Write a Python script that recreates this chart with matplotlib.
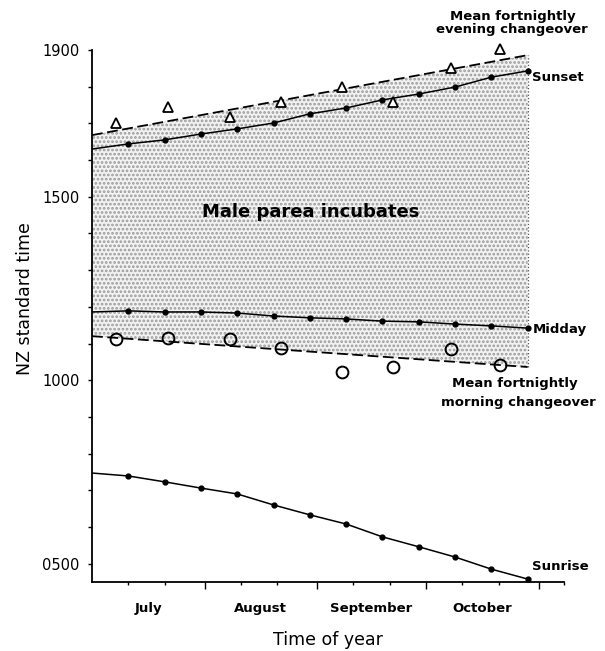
import matplotlib
matplotlib.use("Agg")
import matplotlib.pyplot as plt

plt.rcParams['font.family'] = ['DejaVu Sans']
plt.rcParams['hatch.linewidth'] = 1.3

# dias desde 1 de julho
dias = [0, 10, 20, 30, 40, 50, 60, 70, 80, 90, 100, 110, 120]
por_do_sol = [16.30, 16.44, 16.55, 16.71, 16.85, 17.01, 17.26, 17.42, 17.64, 17.80, 17.99, 18.26, 18.43]
meio_dia = [11.86, 11.89, 11.86, 11.86, 11.83, 11.75, 11.70, 11.67, 11.61, 11.59, 11.53, 11.48, 11.42]
nascer_do_sol = [7.47, 7.39, 7.23, 7.06, 6.90, 6.60, 6.33, 6.08, 5.73, 5.46, 5.18, 4.85, 4.58]

# trocas quinzenais (media)
dias_troca = [6.5, 21.0, 38.0, 52.0, 68.8, 82.8, 98.9, 112.5]
troca_noite = [17.01, 17.45, 17.17, 17.58, 17.99, 17.58, 18.51, 19.03]
troca_manha = [11.12, 11.15, 11.12, 10.88, 10.22, 10.36, 10.85, 10.41]

# retas ajustadas (inicio e fim)
dias_reta = [0, 120]
reta_noite = [16.68, 18.86]
reta_manha = [11.20, 10.36]

meses = ['July', 'August', 'September', 'October']
centro_meses = [15.5, 46.5, 77.0, 107.5]
inicio_meses = [31, 62, 92, 123]
ticks_menores = [10, 20, 41, 51, 72, 82, 102, 112, 130]
horas = [5, 10, 15, 19]
horas_labels = ['0500', '1000', '1500', '1900']

fig = plt.figure(figsize=(6.05, 6.51), dpi=100)
ax = fig.add_axes([92 / 605, 69 / 651, 472 / 605, 532 / 651])

# area sombreada (macho incuba)
ax.fill_between(dias_reta, reta_manha, reta_noite, facecolor='#f2f2f2',
                edgecolor='#9a9a9a', hatch='....', linewidth=0, zorder=1)
ax.plot([dias_reta[1], dias_reta[1]], [reta_manha[1], reta_noite[1]],
        color='#555555', lw=0.9, ls=':', zorder=2)

ax.plot(dias_reta, reta_noite, color='black', lw=1.3, ls=(0, (6, 2.5)), zorder=3, clip_on=False)
ax.plot(dias_reta, reta_manha, color='black', lw=1.3, ls=(0, (6, 2.5)), zorder=3)

for serie in [por_do_sol, meio_dia, nascer_do_sol]:
    ax.plot(dias, serie, color='black', lw=1.1, zorder=4)
    ax.plot(dias[1:], serie[1:], 'o', color='black', ms=3.5, zorder=5)

ax.plot(dias_troca, troca_noite, '^', mfc='white', mec='black', mew=1.3, ms=7,
        zorder=6, clip_on=False)
ax.plot(dias_troca, troca_manha, 'o', mfc='none', mec='black', mew=1.4, ms=8.5, zorder=6)

ax.set_xlim(0, 130)
ax.set_ylim(4.5, 19)

ax.spines['top'].set_visible(False)
ax.spines['right'].set_visible(False)
ax.spines['left'].set_linewidth(1.3)
ax.spines['bottom'].set_linewidth(1.3)

ax.set_xticks(inicio_meses)
ax.set_xticks(ticks_menores, minor=True)
ax.set_xticklabels([])
ax.tick_params(axis='x', which='major', length=5, width=1)
ax.tick_params(axis='x', which='minor', length=2.5, width=1)

ax.set_yticks(horas, horas_labels)
ax.set_yticks(range(5, 19), minor=True)
ax.tick_params(axis='y', which='both', length=3, width=1, labelsize=10.5, pad=6)

for mes, c in zip(meses, centro_meses):
    ax.text(c, -0.049, mes, transform=ax.get_xaxis_transform(), ha='center',
            va='center', fontsize=9.5, fontweight='bold')

ax.set_xlabel('Time of year', fontsize=12.5)
ax.xaxis.set_label_coords(0.5, -0.093)
ax.set_ylabel('NZ standard time', fontsize=12.5)
ax.yaxis.set_label_coords(-0.122, 0.532)

ax.text(60.3, 14.58, 'Male parea incubates', ha='center', va='center',
        fontsize=13, fontweight='bold', zorder=7)

rot = dict(fontsize=9.5, fontweight='bold', clip_on=False)
ax.text(116.0, 19.90, 'Mean fortnightly', ha='center', va='center', **rot)
ax.text(115.7, 19.57, 'evening changeover', ha='center', va='center', **rot)
ax.text(121.3, 18.26, 'Sunset', ha='left', va='center', **rot)
ax.text(121.5, 11.37, 'Midday', ha='left', va='center', **rot)
ax.text(116.5, 9.92, 'Mean fortnightly', ha='center', va='center', **rot)
ax.text(117.4, 9.38, 'morning changeover', ha='center', va='center', **rot)
ax.text(121.3, 4.91, 'Sunrise', ha='left', va='center', **rot)

fig.savefig('out.png', dpi=100)
plt.close(fig)
